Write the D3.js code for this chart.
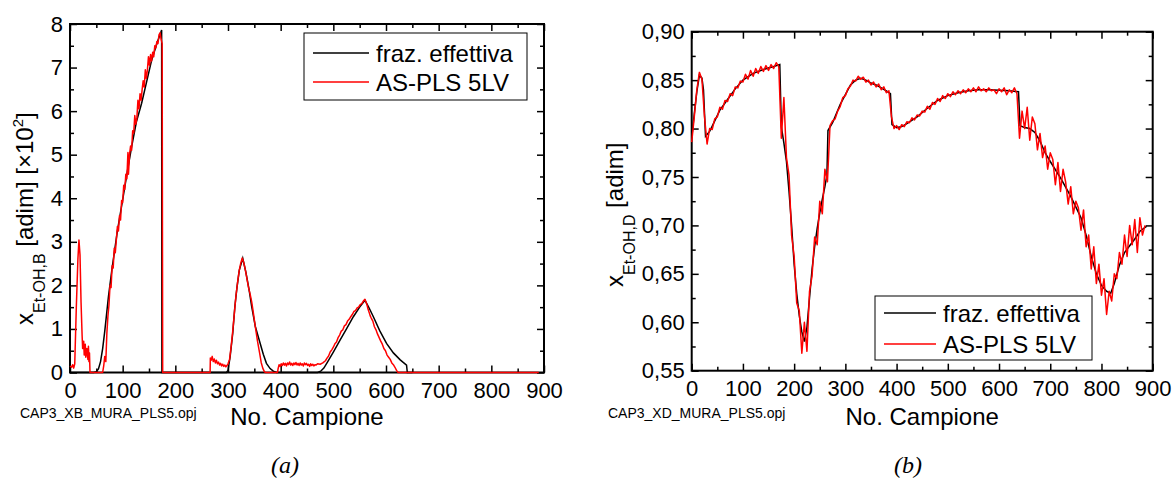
<!DOCTYPE html>
<html>
<head>
<meta charset="utf-8">
<script src="https://cdn.jsdelivr.net/npm/d3@7"></script>
<style>
body { margin: 0; background: #fff; }
text { font-family: "Liberation Sans", Arial, sans-serif; fill: #000; }
</style>
</head>
<body>
<svg id="chart" width="1175" height="479"></svg>
<script>
// ---- data ----
var xTicks = [0, 100, 200, 300, 400, 500, 600, 700, 800, 900];
var xMinor = [50, 150, 250, 350, 450, 550, 650, 750, 850];

var yTicksB = [0, 1, 2, 3, 4, 5, 6, 7, 8];
var yTickLabelsB = ["0", "1", "2", "3", "4", "5", "6", "7", "8"];
var yMinorB = [0.5, 1.5, 2.5, 3.5, 4.5, 5.5, 6.5, 7.5];

var yTicksD = [0.55, 0.60, 0.65, 0.70, 0.75, 0.80, 0.85, 0.90];
var yTickLabelsD = ["0,55", "0,60", "0,65", "0,70", "0,75", "0,80", "0,85", "0,90"];
var yMinorD = [0.575, 0.625, 0.675, 0.725, 0.775, 0.825, 0.875];

var seriesNames = ["fraz. effettiva", "AS-PLS 5LV"];

// panel (a): x_Et-OH,B  [x10^2]
var actualB = [[0,0],[45,0],[50,0.02],[54,0.08],[58,0.25],[62,0.55],[66,0.95],[73,1.74],[80,2.40],[90,3.25],
  [101,4.04],[110,4.70],[117,5.18],[126,5.75],[136,6.18],[145,6.65],[155,7.17],[165,7.55],[174,7.86],[174.5,0],
  [297,0],[300,0.05],[304,0.36],[309,0.90],[313,1.51],[317,1.95],[321.5,2.35],[328,2.62],[334,2.30],[340,1.90],
  [345,1.51],[352,1.05],[361,0.67],[367,0.42],[373,0.21],[380,0.09],[386,0.03],[392,0],
  [470,0],[476,0.03],[482,0.10],[488,0.22],[500,0.47],[513,0.75],[525,1.00],[538,1.28],[550,1.50],[560,1.66],
  [568,1.48],[576,1.28],[588,0.96],[601,0.67],[614,0.45],[627,0.29],[639,0.17],[640.5,0],[650,0]];

var predB = [[0,0.15],[3,0.12],[5,0.18],[7,0.10],[9,0.20],[12,1.50],[15,2.60],[17,3.04],[19,2.70],[21,1.60],
  [23,0.85],[24,0.55],[26,0.72],[27,0.40],[29,0.65],[30,0.35],[32,0.55],[34,0.30],[35,0.60],[36,0.25],[37,0.45],[38,0],
  [62,0],[64,0.15],[66,0.37],[68,0.25],[70,0.90],[72,1.29],[74,1.55],[76,2.00],[78,1.95],[80,2.45],[82,2.40],
  [84,2.85],[86,2.75],[88,3.05],[90,3.35],[92,3.25],[94,3.60],[96,3.50],[98,3.95],[100,3.90],[102,4.30],[104,4.20],
  [106,4.55],[108,4.45],[110,5.05],[111,4.55],[113,5.00],[115,5.20],[117,5.10],[119,5.55],[121,5.50],[123,5.90],
  [125,5.70],[127,5.85],[129,6.25],[131,6.05],[133,6.40],[135,6.25],[137,6.50],[139,6.70],[141,6.55],[143,6.95],
  [145,6.75],[147,6.95],[149,7.25],[151,7.05],[153,7.30],[155,7.15],[157,7.35],[159,7.25],[161,7.50],[163,7.45],
  [165,7.60],[167,7.55],[169,7.75],[171,7.80],[173,7.65],[175,7.55],[176,0],
  [266,0],[266.5,0.33],[268,0.28],[270,0.37],[272,0.25],[274,0.31],[276,0.22],[278,0.28],[280,0.20],[282,0.24],
  [284,0.17],[286,0.21],[288,0.15],[290,0.19],[292,0.14],[294,0.17],[296,0.13],[298,0.16],[300,0.20],[303,0.30],
  [306,0.60],[309,0.95],[312,1.35],[315,1.75],[318,2.05],[321,2.32],[324,2.50],[327,2.63],[330,2.52],[333,2.35],
  [336,2.15],[339,1.95],[342,1.80],[345,1.62],[348,1.38],[351,1.12],[354,0.88],[356,0.72],[360,0.45],[363,0.23],
  [366,0.10],[369,0.02],[371,0],
  [394,0],[395,0.08],[397,0.18],[399,0.14],[401,0.20],[403,0.16],[405,0.22],[407,0.17],[409,0.21],[411,0.15],
  [413,0.22],[415,0.18],[417,0.24],[419,0.17],[421,0.21],[423,0.16],[425,0.22],[427,0.18],[429,0.23],[431,0.17],
  [433,0.21],[435,0.16],[437,0.22],[439,0.17],[441,0.20],[443,0.15],[445,0.22],[447,0.18],[449,0.21],[451,0.16],
  [453,0.19],[455,0.14],[457,0.20],[459,0.16],[461,0.19],[463,0.15],[465,0.18],[467,0.17],[470,0.20],[475,0.19],
  [480,0.22],[485,0.27],[488,0.33],[491,0.38],[494,0.47],[497,0.52],[500,0.58],[503,0.66],[506,0.70],[509,0.80],
  [512,0.86],[515,0.95],[518,0.98],[521,1.07],[524,1.10],[527,1.18],[530,1.22],[533,1.28],[536,1.33],[539,1.40],
  [542,1.42],[545,1.48],[548,1.50],[551,1.56],[554,1.58],[557,1.64],[560,1.68],[562,1.62],[564,1.55],[566,1.45],
  [568,1.38],[570,1.30],[572,1.25],[575,1.18],[578,1.05],[581,0.98],[584,0.88],[587,0.80],[590,0.72],[593,0.65],
  [596,0.55],[599,0.50],[602,0.40],[605,0.35],[608,0.30],[611,0.22],[614,0.18],[617,0.12],[620,0.05],[623,0],[890,0]];

// panel (b): x_Et-OH,D
var actualD = [[0,0.790],[5,0.815],[10,0.838],[15,0.855],[20,0.852],[23,0.840],[27,0.792],[35,0.797],[45,0.808],
  [55,0.819],[70,0.830],[85,0.841],[100,0.850],[120,0.857],[140,0.861],[160,0.864],[172,0.866],[175,0.802],
  [180,0.785],[185,0.766],[190,0.735],[195,0.700],[200,0.660],[205,0.630],[210,0.607],[215,0.590],[220,0.580],
  [225,0.595],[230,0.625],[235,0.655],[240,0.678],[245,0.697],[250,0.713],[255,0.727],[260,0.740],[264,0.752],
  [266,0.798],[275,0.806],[290,0.825],[300,0.835],[310,0.845],[320,0.850],[330,0.852],[340,0.850],[350,0.847],
  [360,0.845],[370,0.842],[380,0.839],[388,0.836],[391,0.804],[400,0.801],[410,0.802],[420,0.805],[440,0.812],
  [460,0.821],[480,0.829],[500,0.834],[520,0.837],[540,0.839],[560,0.840],[580,0.840],[600,0.8395],[620,0.839],
  [638,0.838],[641,0.803],[650,0.801],[660,0.800],[670,0.796],[680,0.787],[690,0.775],[700,0.766],[720,0.749],
  [740,0.730],[760,0.708],[770,0.690],[780,0.668],[790,0.650],[800,0.638],[810,0.632],[818,0.630],[825,0.640],
  [835,0.659],[845,0.672],[855,0.679],[865,0.686],[875,0.694],[888,0.699]];

// prediction, one value every 5 samples starting at sample 0
var predD = [0.786,0.812,0.840,0.858,0.851,0.812,0.784,0.800,0.799,0.810,
  0.812,0.822,0.820,0.829,0.828,0.836,0.834,0.843,0.842,0.849,
  0.848,0.856,0.851,0.860,0.854,0.862,0.857,0.864,0.859,0.865,
  0.860,0.866,0.862,0.868,0.864,0.790,0.832,0.770,0.752,0.690,
  0.668,0.620,0.612,0.568,0.600,0.570,0.632,0.648,0.688,0.680,
  0.725,0.712,0.758,0.745,0.803,0.808,0.810,0.818,0.823,0.832,
  0.834,0.841,0.844,0.850,0.849,0.854,0.851,0.853,0.848,0.850,
  0.845,0.848,0.843,0.846,0.840,0.843,0.837,0.839,0.812,0.800,
  0.803,0.799,0.804,0.802,0.807,0.806,0.811,0.809,0.814,0.813,
  0.818,0.817,0.823,0.820,0.827,0.825,0.831,0.828,0.834,0.831,
  0.836,0.833,0.838,0.835,0.839,0.836,0.840,0.837,0.841,0.838,
  0.842,0.838,0.843,0.839,0.841,0.838,0.842,0.839,0.840,0.836,
  0.841,0.838,0.842,0.835,0.840,0.837,0.842,0.836,0.790,0.818,
  0.800,0.822,0.788,0.812,0.805,0.778,0.795,0.770,0.782,0.758,
  0.775,0.768,0.742,0.765,0.735,0.758,0.745,0.722,0.740,0.712,
  0.725,0.718,0.695,0.716,0.678,0.690,0.655,0.678,0.640,0.660,
  0.628,0.645,0.608,0.632,0.622,0.650,0.645,0.672,0.660,0.690,
  0.668,0.700,0.680,0.706,0.672,0.708,0.690,0.700];
var predDStep = 5;

// ---- drawing ----
var svg = d3.select("#chart");

function drawPanel(p){
    var x = d3.scaleLinear().domain([0, 900]).range([p.left, p.right]);
    var y = d3.scaleLinear().domain(p.yDomain).range([p.bottom, p.top]);

    // minor ticks, all four sides, pointing inward
    svg.append("g").attr("transform", "translate(0," + p.bottom + ")")
	.call(d3.axisBottom(x).tickValues(xMinor).tickSize(-4).tickSizeOuter(0).tickFormat(""));
    svg.append("g").attr("transform", "translate(0," + p.top + ")")
	.call(d3.axisTop(x).tickValues(xMinor).tickSize(-4).tickSizeOuter(0).tickFormat(""));
    svg.append("g").attr("transform", "translate(" + p.left + ",0)")
	.call(d3.axisLeft(y).tickValues(p.yMinor).tickSize(-4).tickSizeOuter(0).tickFormat(""));
    svg.append("g").attr("transform", "translate(" + p.right + ",0)")
	.call(d3.axisRight(y).tickValues(p.yMinor).tickSize(-4).tickSizeOuter(0).tickFormat(""));

    // major ticks
    svg.append("g").attr("class", "xax").attr("transform", "translate(0," + p.bottom + ")")
	.call(d3.axisBottom(x).tickValues(xTicks).tickSize(-7).tickSizeOuter(0).tickPadding(10));
    svg.append("g").attr("transform", "translate(0," + p.top + ")")
	.call(d3.axisTop(x).tickValues(xTicks).tickSize(-7).tickSizeOuter(0).tickFormat(""));
    svg.append("g").attr("class", "yax").attr("transform", "translate(" + p.left + ",0)")
	.call(d3.axisLeft(y).tickValues(p.yTicks).tickSize(-7).tickSizeOuter(0).tickPadding(7)
	      .tickFormat(function(d, i){ return p.yLabels[i]; }));
    svg.append("g").attr("transform", "translate(" + p.right + ",0)")
	.call(d3.axisRight(y).tickValues(p.yTicks).tickSize(-7).tickSizeOuter(0).tickFormat(""));

    svg.selectAll(".domain").remove();
    svg.selectAll(".tick line").attr("stroke", "#000").attr("stroke-width", 1.5);
    svg.selectAll(".tick text").attr("font-size", 22).attr("font-family", "Liberation Sans, Arial, sans-serif").attr("fill", "#000");

    // frame
    svg.append("rect")
	.attr("x", p.left).attr("y", p.top)
	.attr("width", p.right - p.left).attr("height", p.bottom - p.top)
	.attr("fill", "none").attr("stroke", "#000").attr("stroke-width", 2);

    var line = d3.line()
	.x(function(d) { return x(d[0]); })
	.y(function(d) { return y(d[1]); });

    svg.append("path").datum(p.actual)
	.attr("d", line).attr("fill", "none").attr("stroke", "#000").attr("stroke-width", 1.5);
    svg.append("path").datum(p.pred)
	.attr("d", line).attr("fill", "none").attr("stroke", "#ff0000").attr("stroke-width", 1.5)
	.attr("stroke-linejoin", "round");

    // x title
    svg.append("text")
	.attr("x", (p.left + p.right) / 2).attr("y", 425)
	.attr("text-anchor", "middle").attr("font-size", 24)
	.text("No. Campione");

    // y title
    var yt = svg.append("text")
	.attr("transform", "rotate(-90)")
	.attr("x", -p.titleStart).attr("y", p.titleX)
	.attr("font-size", 24);
    yt.append("tspan").text("x");
    yt.append("tspan").attr("font-size", 16).attr("dy", 12).text(p.sub);
    yt.append("tspan").attr("dy", -12).text(" [adim]" + (p.mult ? " [\u00d710" : ""));
    if(p.mult){
	yt.append("tspan").attr("font-size", 15).attr("dy", -10).text("2");
	yt.append("tspan").attr("dy", 10).text("]");
    }

    // file name
    svg.append("text")
	.attr("x", p.fileX).attr("y", 418)
	.attr("font-size", 14)
	.text(p.file);

    // caption
    svg.append("text")
	.attr("x", p.capX).attr("y", 473)
	.attr("text-anchor", "middle")
	.attr("font-size", 24).attr("font-style", "italic")
	.style("font-family", "Liberation Serif, Times New Roman, serif")
	.text(p.caption);

    // legend
    var lg = p.legend;
    svg.append("rect")
	.attr("x", lg.x).attr("y", lg.y).attr("width", lg.w).attr("height", lg.h)
	.attr("fill", "#fff").attr("stroke", "#000").attr("stroke-width", 1);
    var colors = ["#000", "#ff0000"];
    seriesNames.forEach(function(name, i){
	var cy = lg.y + lg.row0 + i * lg.dy;
	svg.append("line")
	    .attr("x1", lg.x + 9).attr("x2", lg.x + 9 + lg.len)
	    .attr("y1", cy).attr("y2", cy)
	    .attr("stroke", colors[i]).attr("stroke-width", 1.5);
	svg.append("text")
	    .attr("x", lg.x + 16 + lg.len).attr("y", cy + 8.5)
	    .attr("font-size", 24)
	    .text(name);
    });
}

drawPanel({
    left: 70, right: 544, top: 24, bottom: 372.5,
    yDomain: [0, 8], yTicks: yTicksB, yLabels: yTickLabelsB, yMinor: yMinorB,
    actual: actualB, pred: predB,
    titleStart: 325, titleX: 33, sub: "Et-OH,B", mult: true,
    file: "CAP3_XB_MURA_PLS5.opj", fileX: 20,
    caption: "(a)", capX: 285,
    legend: {x: 304, y: 33, w: 223, h: 67, row0: 20, dy: 29, len: 56}
});

drawPanel({
    left: 691.7, right: 1152.7, top: 31.7, bottom: 370.7,
    yDomain: [0.55, 0.90], yTicks: yTicksD, yLabels: yTickLabelsD, yMinor: yMinorD,
    actual: actualD,
    pred: predD.map(function(v, i){ return [i * predDStep, v]; }),
    titleStart: 287, titleX: 623, sub: "Et-OH,D", mult: false,
    file: "CAP3_XD_MURA_PLS5.opj", fileX: 608,
    caption: "(b)", capX: 908,
    legend: {x: 875, y: 296, w: 217, h: 64, row0: 17, dy: 31, len: 52}
});
</script>
</body>
</html>
